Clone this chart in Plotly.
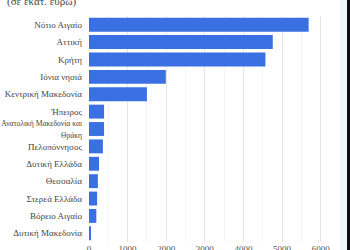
import plotly.graph_objects as go

regions = ["Νότιο Αιγαίο", "Αττική", "Κρήτη", "Ιόνια νησιά", "Κεντρική Μακεδονία",
           "Ήπειρος", "Ανατολική Μακεδονία και<br>Θράκη", "Πελοπόννησος", "Δυτική Ελλάδα",
           "Θεσσαλία", "Στερεά Ελλάδα", "Βόρειο Αιγαίο", "Δυτική Μακεδονία"]
values = [5690, 4760, 4570, 1990, 1500, 390, 390, 360, 260, 230, 210, 190, 50]
tick_vals = [0, 1000, 2000, 3000, 4000, 5000, 6000]
subtitle = "(σε εκατ. ευρώ)"

W, H = 350, 250
ml, mr, mt, mb = 89, 12, 16, 8
pw = W - ml - mr
ph = H - mt - mb


def label(s):
    if "<br>" in s:
        return "<span style='font-size:7.6px'>" + s.replace("<br>", "</span><br><span style='font-size:7.6px'>") + "</span>"
    return s


fig = go.Figure(go.Bar(
    x=values, y=regions, orientation="h",
    marker=dict(color="#3b70e2", line=dict(width=0)),
    hoverinfo="x+y",
))

fig.update_layout(
    width=W, height=H,
    margin=dict(l=ml, r=mr, t=mt, b=mb, autoexpand=False),
    paper_bgcolor="white", plot_bgcolor="white",
    bargap=0.2,
    showlegend=False,
    font=dict(family="Liberation Serif", size=9, color="#444"),
    xaxis=dict(
        range=[0, 6450], tickvals=tick_vals, ticktext=[str(v) for v in tick_vals],
        showgrid=True, gridcolor="#e6e6e6", gridwidth=1,
        minor=dict(dtick=500, showgrid=True, gridcolor="#f4f4f4"),
        zeroline=False, showline=False, ticks="", automargin=False,
        tickfont=dict(family="Liberation Serif", size=9, color="#555"),
    ),
    yaxis=dict(
        categoryorder="array", categoryarray=regions, autorange="reversed",
        tickvals=regions, ticktext=[label(r) for r in regions],
        showgrid=False, zeroline=False, showline=False, ticks="",
        ticklabelstandoff=6, automargin=False,
        tickfont=dict(family="Liberation Serif", size=9, color="#444"),
    ),
    annotations=[dict(
        text=subtitle, xref="paper", yref="paper",
        x=(5 - ml) / pw, y=(H - mb - 1) / ph, xanchor="left", yanchor="middle",
        showarrow=False, font=dict(family="Liberation Serif", size=11, color="#444"),
    )],
    shapes=[
        dict(type="rect", xref="paper", yref="paper",
             x0=(340 - ml) / pw, x1=(347 - ml) / pw, y0=-mb / ph, y1=(H - mb) / ph,
             fillcolor="#f2fafb", line=dict(width=0), layer="below"),
        dict(type="rect", xref="paper", yref="paper",
             x0=(347 - ml) / pw, x1=(351 - ml) / pw, y0=-mb / ph, y1=(H - mb) / ph,
             fillcolor="#111111", line=dict(width=0)),
    ],
)

fig.write_html("out.html")
